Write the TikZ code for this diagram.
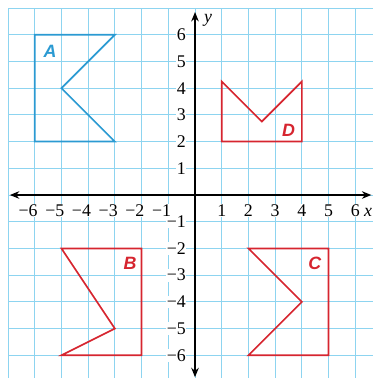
\documentclass[tikz,border=0pt]{standalone}
\usepackage{fontspec}
\setmainfont{Liberation Serif}
\setsansfont{Liberation Sans}
\usetikzlibrary{arrows.meta}
\definecolor{gridcol}{HTML}{8DD4F0}
\definecolor{figblue}{HTML}{2B9AD2}
\definecolor{figred}{HTML}{D6252F}

\begin{document}
\begin{tikzpicture}[x=1cm,y=1cm,
  ticklbl/.style={fill=white, inner sep=0.5pt, font=\fontsize{19}{22}\selectfont},
  figlbl/.style={font=\sffamily\bfseries\itshape\fontsize{19}{22}\selectfont},
  axisline/.style={line width=1.6pt, {Stealth[length=10pt,width=8pt]}-{Stealth[length=10pt,width=8pt]}},
  figline/.style={line width=1.8pt}]
\useasboundingbox (-7.3,-6.85) rectangle (6.67,7.3);
\draw[gridcol, line width=0.8pt] (-7,-6.85) grid (6.67,7);
% axes
\coordinate (xlo) at (-6.93,0);
\coordinate (xhi) at (6.6,0);
\coordinate (ylo) at (0,-6.82);
\coordinate (yhi) at (0,6.85);
\draw[axisline] (xlo) -- (xhi);
\draw[axisline] (ylo) -- (yhi);
\node[font=\itshape\fontsize{19}{22}\selectfont, anchor=base west, inner sep=0pt] (ylbl) at (0.33,6.45) {y};
\node[ticklbl, font=\itshape\fontsize{19}{22}\selectfont, anchor=base] (xlbl) at (6.48,-0.8) {x};
% tick labels
\foreach \j in {1,...,6} {
  \node[ticklbl, anchor=east] (yp\j) at (-0.32,\j) {\j};
  \node[ticklbl, anchor=east] (yn\j) at (-0.32,-\j) {−\j};
}
\foreach \i in {1,...,6} {
  \node[ticklbl, anchor=base] (xp\i) at (\i,-0.8) {\i};
  \node[ticklbl, anchor=base east] (xn\i) at (-\i+0.13,-0.8) {−\i};
}
% figures
\draw[figblue, figline] (-6,6) -- (-3,6) -- (-5,4) -- (-3,2) -- (-6,2) -- cycle;
\node[figlbl, text=figblue] (lblA) at (-5.43,5.36) {A};
\draw[figred, figline] (1,4.25) -- (2.5,2.75) -- (4,4.25) -- (4,2) -- (1,2) -- cycle;
\node[figlbl, text=figred] (lblD) at (3.5,2.43) {D};
\draw[figred, figline] (-5,-2) -- (-2,-2) -- (-2,-6) -- (-5,-6) -- (-3,-5) -- cycle;
\node[figlbl, text=figred] (lblB) at (-2.43,-2.55) {B};
\draw[figred, figline] (2,-2) -- (5,-2) -- (5,-6) -- (2,-6) -- (4,-4) -- cycle;
\node[figlbl, text=figred] (lblC) at (4.48,-2.56) {C};
\end{tikzpicture}
\end{document}
